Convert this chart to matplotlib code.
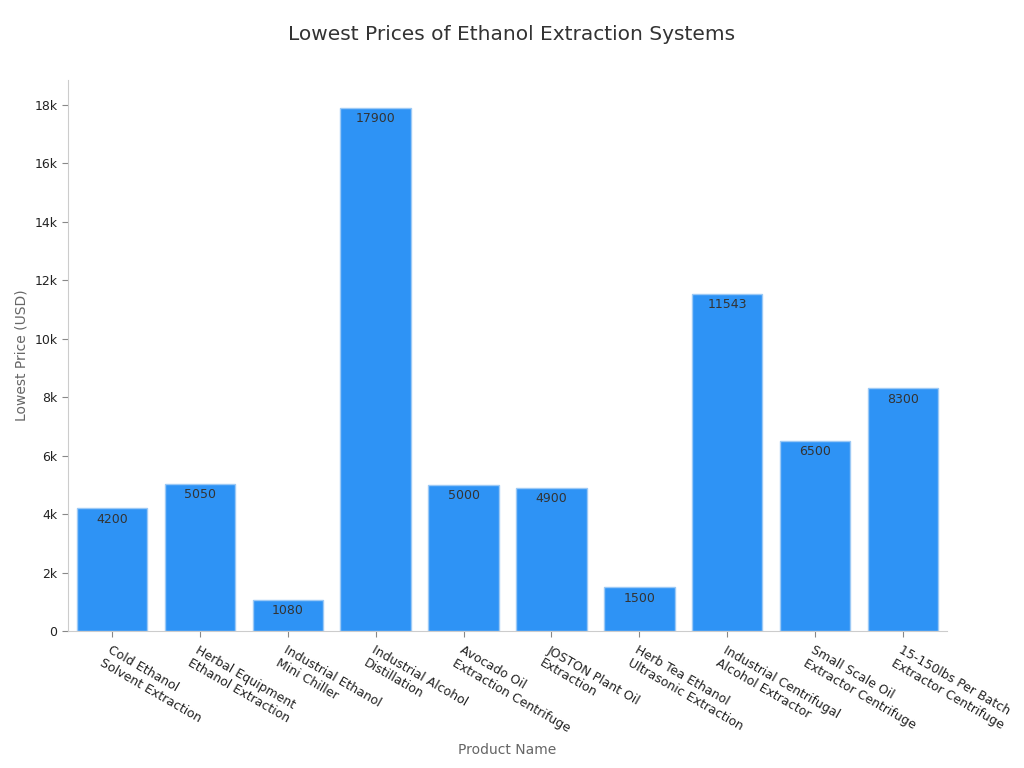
import matplotlib.pyplot as plt
from matplotlib.ticker import FuncFormatter

products = ['Cold Ethanol\nSolvent Extraction', 'Herbal Equipment\nEthanol Extraction',
            'Industrial Ethanol\nMini Chiller', 'Industrial Alcohol\nDistillation',
            'Avocado Oil\nExtraction Centrifuge', 'JOSTON Plant Oil\nExtraction',
            'Herb Tea Ethanol\nUltrasonic Extraction', 'Industrial Centrifugal\nAlcohol Extractor',
            'Small Scale Oil\nExtractor Centrifuge', '15-150lbs Per Batch\nExtractor Centrifuge']
prices = [4200, 5050, 1080, 17900, 5000, 4900, 1500, 11543, 6500, 8300]

fig = plt.figure(figsize=(10.24, 7.68), dpi=100)
ax = fig.add_axes([0.0664, 0.178, 0.8584, 0.718])

x = range(len(products))
bars = ax.bar(x, prices, width=0.8, color='#2E93F5', edgecolor='#9cc9f5', linewidth=1)

for i, v in enumerate(prices):
    ax.annotate(str(v), (i, v), xytext=(0, -3), textcoords='offset points',
                ha='center', va='top', fontsize=9, color='#333333')

ax.set_xlim(-0.5, len(products) - 0.5)
ax.set_ylim(0, 18850)
ax.set_yticks(range(0, 18001, 2000))
ax.yaxis.set_major_formatter(FuncFormatter(lambda v, p: '0' if v == 0 else f'{int(v/1000)}k'))
ax.set_xticks(list(x))
ax.set_xticklabels(products, rotation=-30, ha='left', va='top', rotation_mode='anchor',
                   fontsize=9, color='#222222')
ax.tick_params(axis='y', labelsize=9, labelcolor='#222222', color='#888888', length=4)
ax.tick_params(axis='x', color='#888888', length=4, pad=5)

for s in ['top', 'right']:
    ax.spines[s].set_visible(False)
for s in ['left', 'bottom']:
    ax.spines[s].set_color('#cccccc')

ax.set_ylabel('Lowest Price (USD)', fontsize=10, color='#666666')
ax.set_xlabel('Product Name', fontsize=10, color='#666666', labelpad=6)
fig.suptitle('Lowest Prices of Ethanol Extraction Systems', fontsize=14.5, color='#333333', y=0.968)

fig.savefig('out.png', dpi=100)
